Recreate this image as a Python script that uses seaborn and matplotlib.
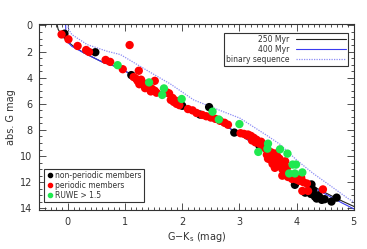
import numpy as np
import pandas as pd
import matplotlib
matplotlib.use("Agg")
import matplotlib.pyplot as plt
from matplotlib.lines import Line2D
from matplotlib.ticker import MultipleLocator
import seaborn as sns

# isochrones (G-Ks, abs. G)
iso250_x = [-0.19, -0.17, -0.13, -0.07, 0.0, 0.1, 0.28, 0.63, 0.92, 1.09, 1.5, 2.0, 2.4, 2.84, 3.3, 3.6, 3.9, 4.2, 4.5, 4.8, 5.05]
iso250_y = [-0.1, 0.3, 0.58, 0.95, 1.25, 1.6, 2.1, 2.86, 3.25, 3.73, 4.8, 6.1, 7.0, 7.9, 9.18, 10.2, 11.25, 12.1, 12.8, 13.45, 13.95]
iso400_x = [-0.04, -0.035, -0.03, 0.0, 0.07, 0.28, 0.63, 0.92, 1.09, 1.5, 2.0, 2.4, 2.84, 3.3, 3.6, 3.9, 4.2, 4.5, 4.8, 5.05]
iso400_y = [-0.1, 0.4, 0.83, 1.3, 1.6, 2.1, 2.86, 3.25, 3.73, 4.8, 6.1, 7.0, 7.9, 9.18, 10.2, 11.3, 12.2, 12.9, 13.6, 14.15]
binary_x = [-0.01, 0.02, 0.07, 0.34, 0.69, 0.92, 1.36, 1.8, 2.2, 2.6, 3.01, 3.48, 3.71, 4.0, 4.29, 4.6, 4.9, 5.05]
binary_y = [-0.1, 0.35, 0.7, 1.47, 1.98, 2.23, 3.38, 4.5, 5.7, 6.4, 7.1, 8.42, 9.1, 10.3, 11.33, 12.3, 13.25, 13.65]

# non-periodic members
np_x = [-0.06, 0.48, 1.11, 2.0, 2.31, 2.47, 2.91, 3.35, 3.97, 4.17, 4.26, 4.29, 4.32, 4.41, 4.49, 4.61, 4.7,
        4.25, 4.35, 4.38, 4.44, 4.15]
np_y = [0.63, 2.05, 3.8, 6.15, 6.82, 6.25, 8.2, 9.2, 12.2, 12.72, 12.17, 12.6, 13.1, 13.2, 13.3, 13.48, 13.18,
        12.9, 13.25, 13.0, 13.35, 12.8]

# periodic members
p_x = [-0.11, 0.01, 0.17, 0.32, 0.37, 0.66, 0.74, 0.96, 1.08, 1.24,
       1.15, 1.2, 1.22, 1.28, 1.3, 1.33, 1.38, 1.42, 1.47, 1.52, 1.55, 1.25, 1.35, 1.45, 1.52, 1.73, 1.77,
       1.8, 1.85, 1.88, 1.9, 1.95, 1.83,
       2.1, 2.18, 2.25, 2.35, 2.42, 2.5, 2.58, 2.66, 2.74, 2.8,
       3.02, 3.08, 3.15, 3.2, 3.25, 3.3, 3.13, 3.24,
       3.22, 3.28, 3.35, 3.4, 3.38, 3.42,
       3.45, 3.5, 3.55, 3.48, 3.58, 3.6, 3.62, 3.55, 3.65, 3.7, 3.68, 3.72, 3.6, 3.75, 3.78, 3.8, 3.83, 3.5, 3.58,
       3.66, 3.74, 3.62,
       3.75, 3.85, 3.92, 4.0, 4.05, 4.12, 4.18, 3.95, 4.08, 3.8,
       4.1, 4.2, 4.46]
p_y = [0.69, 1.06, 1.57, 1.88, 2.03, 2.64, 2.79, 3.35, 1.5, 3.47,
       3.95, 4.1, 4.25, 4.15, 4.35, 4.5, 4.6, 4.7, 4.85, 5.0, 5.15, 4.5, 4.8, 5.05, 4.24, 5.12, 5.2,
       5.7, 5.85, 5.75, 6.0, 6.1, 5.55,
       6.4, 6.5, 6.7, 6.85, 6.95, 7.05, 7.15, 7.3, 7.45, 7.6,
       8.25, 8.3, 8.35, 8.45, 8.6, 8.75, 8.42, 8.67,
       8.8, 8.95, 9.05, 9.2, 8.9, 9.18,
       9.4, 9.6, 9.7, 9.9, 9.95, 10.1, 9.8, 10.3, 10.4, 10.2, 10.6, 10.8, 10.55, 11.0, 11.2, 10.4, 10.9, 10.2, 10.6,
       10.0, 10.5, 10.9,
       11.5, 11.6, 11.75, 11.8, 11.9, 12.0, 12.1, 11.5, 11.65, 11.35,
       12.67, 12.67, 12.55]

# RUWE > 1.5
ruwe_x = [0.87, 1.42, 1.68, 1.65, 1.99, 2.53, 2.64, 3.0, 3.33, 3.49, 3.5, 3.71, 3.84, 3.93, 3.99, 3.87, 3.97, 4.1]
ruwe_y = [3.04, 4.36, 4.82, 5.32, 5.63, 6.6, 7.2, 7.55, 9.68, 9.43, 9.05, 9.48, 9.81, 10.65, 10.65, 11.33, 11.33, 11.25]

groups = ["non-periodic members", "periodic members", "RUWE > 1.5"]
colors = ["black", "#ff0000", "#1fe84f"]

df = pd.concat([
    pd.DataFrame({"x": np_x, "y": np_y, "group": groups[0]}),
    pd.DataFrame({"x": p_x, "y": p_y, "group": groups[1]}),
    pd.DataFrame({"x": ruwe_x, "y": ruwe_y, "group": groups[2]}),
], ignore_index=True)

sns.set_style("ticks")
plt.rcParams["font.family"] = ["DejaVu Sans"]
txt = "#333333"

fig = plt.figure(figsize=(3.67, 2.49), dpi=100)
ax = fig.add_axes([0.107, 0.157, 0.857, 0.745])

sns.lineplot(x=iso250_x, y=iso250_y, sort=False, estimator=None, color="#222222", lw=0.8, ax=ax, label="250 Myr")
sns.lineplot(x=iso400_x, y=iso400_y, sort=False, estimator=None, color="#3a3af0", lw=0.8, ax=ax, label="400 Myr")
sns.lineplot(x=binary_x, y=binary_y, sort=False, estimator=None, color="#8c8cf5", lw=0.9, ls=(0, (1, 1)),
             ax=ax, label="binary sequence")
line_handles = ax.get_lines()[:3]
ax.get_legend().remove()

sns.scatterplot(data=df, x="x", y="y", hue="group", palette=dict(zip(groups, colors)),
                s=36, linewidth=0, legend=False, ax=ax, zorder=3)

ax.set_xlim(-0.5, 5)
ax.set_ylim(14.12, -0.08)
ax.xaxis.set_major_locator(MultipleLocator(1))
ax.xaxis.set_minor_locator(MultipleLocator(0.1))
ax.yaxis.set_major_locator(MultipleLocator(2))
ax.yaxis.set_minor_locator(MultipleLocator(0.5))
ax.tick_params(which="both", direction="in", top=True, right=True, colors="#333333", labelsize=7,
               width=0.6, labelcolor=txt)
ax.tick_params(which="major", length=5, pad=5)
ax.tick_params(which="minor", length=2.5)
for sp in ax.spines.values():
    sp.set_color("#333333")
    sp.set_linewidth(0.8)

ax.set_xlabel("G\u2212K$_\\mathrm{s}$ (mag)", fontsize=7, color=txt, labelpad=2)
ax.set_ylabel("abs. G mag", fontsize=7, color=txt, labelpad=3)

leg1 = ax.legend(line_handles, ["250 Myr", "400 Myr", "binary sequence"], loc="upper right",
                 bbox_to_anchor=(0.983, 0.955), borderaxespad=0, fontsize=5.5, markerfirst=False,
                 handlelength=6.5, labelspacing=0.1, fancybox=False, framealpha=1, edgecolor="#333333",
                 borderpad=0.3, handletextpad=0.9)
leg1.get_frame().set_linewidth(0.8)
for t in leg1.get_texts():
    t.set_color(txt)
ax.add_artist(leg1)

pt_handles = [Line2D([], [], ls="none", marker="o", ms=3, color=c) for c in colors]
leg2 = ax.legend(pt_handles, groups, loc="lower left", bbox_to_anchor=(0.016, 0.043), borderaxespad=0,
                 fontsize=5.5, handlelength=0.8, labelspacing=0.1, fancybox=False, framealpha=1,
                 edgecolor="#333333", borderpad=0.3, handletextpad=0.3)
leg2.get_frame().set_linewidth(0.8)
for t in leg2.get_texts():
    t.set_color(txt)

fig.savefig("out.png", dpi=100)
